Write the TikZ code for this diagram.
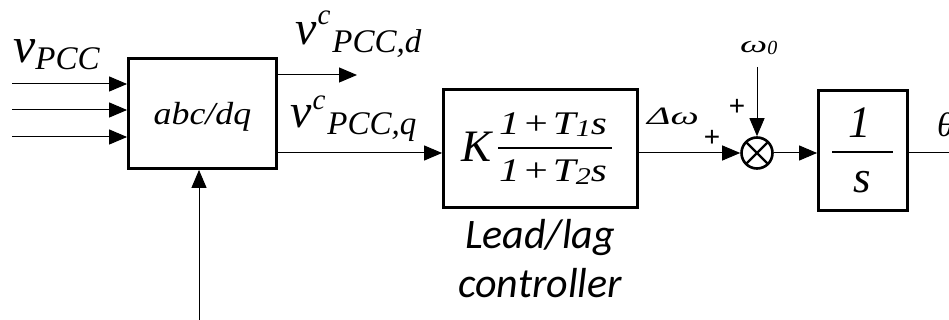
\documentclass[tikz,border=0pt]{standalone}
\usepackage{fontspec}
\setmainfont{Liberation Serif}
\newfontfamily\tnr{Liberation Serif}
\newfontfamily\leadfont{Carlito}
\newfontfamily\plusfont{Liberation Sans}
\usetikzlibrary{arrows.meta}
\newcommand\fsz[1]{\fontsize{#1}{#1}\selectfont}
\begin{document}
\begin{tikzpicture}[x=1pt,y=-1pt,
  blk/.style={draw, line width=2.8pt, inner sep=0pt, rectangle},
  arr/.style={-{Triangle[length=18pt,width=15pt]}, line width=1pt},
  wire/.style={line width=1pt},
  txt/.style={inner sep=0pt, anchor=base west, font=\tnr\itshape},
  ctxt/.style={inner sep=0pt, anchor=base, font=\tnr\itshape}]
\useasboundingbox (0,0) rectangle (949,320);

% blocks
\node[blk, minimum width=148pt, minimum height=110pt] (abc) at (202.5,113.5) {};
\node[ctxt] (abctxt) at (202.5,125) {\fsz{32}\scalebox{1.12}[1]{abc/dq}};

\node[blk, minimum width=194pt, minimum height=118pt] (lead) at (540.5,148.5) {};
\node[txt] (K) at (461,162) {\fsz{45}K};
\node[ctxt] (num) at (553,135) {\fsz{33}\scalebox{1.25}[1]{1\kern4pt{\upshape+}\kern4pt T\raisebox{-2pt}{\fsz{24}1}s}};
\node[ctxt] (den) at (553,182) {\fsz{33}\scalebox{1.25}[1]{1\kern4pt{\upshape+}\kern4pt T\raisebox{-3pt}{\fsz{24}2}s}};
\coordinate (barl) at (498,148);
\coordinate (barr) at (612,148);
\draw[line width=2.5pt] (barl) -- (barr);

\node[blk, minimum width=89pt, minimum height=120pt] (integ) at (863,150.5) {};
\node[ctxt] (one) at (860,138) {\fsz{45}1};
\node[ctxt] (ess) at (862,193) {\fsz{45}s};
\coordinate (ibarl) at (832,152);
\coordinate (ibarr) at (893,152);
\draw[line width=2.5pt] (ibarl) -- (ibarr);

\node[draw, circle, line width=2.6pt, minimum size=31pt, inner sep=0pt,
  path picture={\draw[line width=2.4pt] (path picture bounding box.north west) -- (path picture bounding box.south east)
     (path picture bounding box.north east) -- (path picture bounding box.south west);}] (sum) at (757,153) {};

% labels
\node[txt] (vpcc) at (13,63) {\fsz{50}v\raisebox{-7pt}{\fsz{33}PCC}};
\node[txt] (vd) at (295,45) {\fsz{48}v\kern1pt\raisebox{20pt}{\fsz{29}c}\kern2pt\raisebox{-8pt}{\fsz{33}PCC,d}};
\node[txt] (vq) at (290,128) {\fsz{48}v\kern1pt\raisebox{18pt}{\fsz{29}c}\kern2pt\raisebox{-7pt}{\fsz{33}PCC,q}};
\node[txt] (dw) at (647,125) {\fsz{25}\scalebox{1.6}[1]{Δω}};
\node[txt] (w0) at (740,53) {\fsz{24}\scalebox{1.6}[1]{ω}\raisebox{-2pt}{\fsz{20}0}};
\node[txt] (theta) at (937,137) {\fsz{34}θ};
\node[inner sep=0pt] (p1) at (737,107) {\plusfont\fsz{28}+};
\node[inner sep=0pt] (p2) at (712,138) {\plusfont\fsz{28}+};
\node[ctxt, font=\leadfont\itshape] (lead1) at (540,248) {\fsz{42}Lead/lag};
\node[ctxt, font=\leadfont\itshape] (lead2) at (540,297) {\fsz{42}controller};

% connectors
\coordinate (in1) at (12,84);
\coordinate (in2) at (12,110);
\coordinate (in3) at (12,137);
\coordinate (in4) at (199,320);
\coordinate (dout) at (357,75);
\coordinate (w0top) at (757,67);
\coordinate (thout) at (949,153);
\draw[arr] (in1) -- (in1 -| abc.west);
\draw[arr] (in2) -- (in2 -| abc.west);
\draw[arr] (in3) -- (in3 -| abc.west);
\draw[arr] (in4) -- (in4 |- abc.south);
\draw[arr] (abc.east |- dout) -- (dout);
\draw[arr] (abc.east |- sum) -- (lead.west |- sum);
\draw[arr] (lead.east |- sum) -- (sum.west);
\draw[arr] (w0top) -- (sum.north);
\draw[arr] (sum.east) -- (integ.west |- sum);
\draw[wire] (integ.east |- sum) -- (thout);
\end{tikzpicture}
\end{document}
